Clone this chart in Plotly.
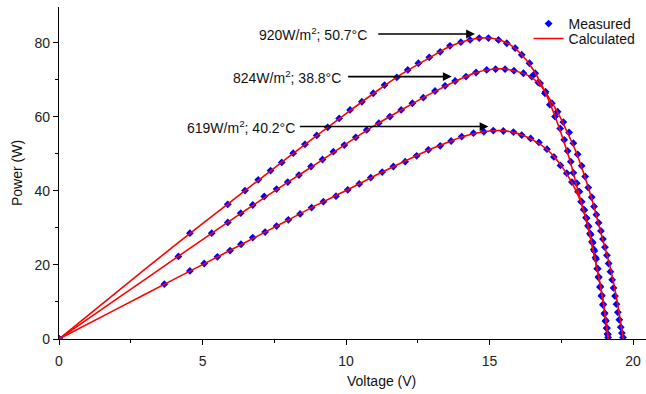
import plotly.graph_objects as go

# measured points (V, W)
v_920 = [0, 4.56, 5.88, 6.48, 6.94, 7.37, 7.76, 8.16, 8.57, 8.98, 9.36, 9.76, 10.14, 10.55, 10.95, 11.34,
         11.77, 12.15, 12.52, 12.9, 13.28, 13.62, 14.0, 14.32, 14.64, 14.96, 15.31, 15.6, 15.89, 16.12,
         16.39, 16.59, 16.76, 16.93, 17.1, 17.28, 17.46, 17.6, 17.72, 17.83, 17.92, 18.04, 18.13, 18.21,
         18.3, 18.38, 18.45, 18.52, 18.59, 18.65, 18.71, 18.77, 18.8, 18.85, 18.9, 18.95, 19.0, 19.04,
         19.08, 19.11, 19.13]
p_920 = [0, 28.6, 36.4, 40.1, 43.0, 45.5, 47.7, 50.2, 52.6, 55.0, 57.2, 59.6, 61.9, 64.1, 66.4, 68.6,
         70.7, 72.7, 74.5, 76.1, 77.6, 79.2, 80.2, 80.8, 81.3, 81.3, 80.8, 79.9, 78.6, 76.8,
         74.5, 71.8, 69.1, 66.4, 63.3, 60.1, 56.9, 53.8, 50.8, 47.9, 44.9, 42.1, 39.8, 37.1,
         34.8, 32.6, 30.4, 28.2, 26.0, 23.8, 21.6, 19.0, 16.6, 14.0, 11.6, 9.2, 6.8, 4.8,
         2.9, 1.4, 0.4]

v_824 = [0, 4.16, 5.32, 5.88, 6.33, 6.75, 7.15, 7.58, 7.97, 8.36, 8.78, 9.18, 9.56, 9.94, 10.34, 10.72,
         11.14, 11.53, 11.92, 12.31, 12.69, 13.1, 13.45, 13.8, 14.18, 14.53, 14.9, 15.21, 15.54, 15.85,
         16.18, 16.47, 16.7, 16.95, 17.17, 17.37, 17.57, 17.77, 17.92, 18.07, 18.21, 18.33, 18.44, 18.56,
         18.64, 18.72, 18.8, 18.88, 18.95, 19.02, 19.09, 19.15, 19.21, 19.27, 19.32, 19.37, 19.42, 19.47,
         19.52, 19.57, 19.61, 19.65]
p_824 = [0, 22.3, 28.6, 31.5, 34.0, 36.2, 38.5, 40.5, 42.4, 44.3, 46.6, 48.5, 50.6, 52.4, 54.5, 56.5,
         58.3, 60.1, 61.9, 63.7, 65.2, 67.0, 68.4, 69.7, 70.9, 72.0, 72.7, 72.9, 72.9, 72.5,
         71.8, 70.9, 69.3, 66.8, 63.7, 61.4, 58.6, 55.8, 52.9, 49.9, 46.8, 43.9, 40.9, 38.3,
         35.8, 33.6, 31.4, 29.2, 27.0, 24.8, 22.6, 20.4, 18.2, 16.0, 13.8, 11.6, 9.4, 7.2,
         5.2, 3.2, 1.6, 0.4]

v_619 = [0, 3.67, 4.56, 5.06, 5.52, 5.96, 6.34, 6.75, 7.18, 7.58, 7.99, 8.4, 8.8, 9.21, 9.65, 10.06,
         10.46, 10.86, 11.26, 11.65, 12.06, 12.46, 12.87, 13.28, 13.66, 14.03, 14.44, 14.8, 15.13, 15.48,
         15.83, 16.12, 16.43, 16.72, 17.0, 17.24, 17.47, 17.69, 17.87, 18.08, 18.19,
         18.28, 18.36, 18.43, 18.5, 18.57, 18.63, 18.69, 18.75, 18.8, 18.86, 18.91, 18.96, 19.01, 19.05,
         19.09, 19.12]
p_619 = [0, 14.8, 18.4, 20.4, 22.2, 23.9, 25.6, 27.4, 28.9, 30.5, 32.2, 33.8, 35.5, 37.1, 38.6, 40.3,
         41.9, 43.6, 45.1, 46.6, 47.9, 49.5, 51.1, 52.2, 53.5, 54.7, 55.6, 56.0, 56.3, 56.2,
         55.9, 55.1, 54.2, 53.1, 51.3, 49.2, 46.9, 44.8, 42.4, 39.8, 37.1,
         35.0, 32.8, 30.6, 28.5, 26.3, 24.2, 22.0, 19.0, 16.8, 14.2, 11.8, 9.4, 7.0, 5.0,
         3.0, 1.2]

# calculated curves
cv_920 = [0, 2, 4, 6, 8, 9, 10, 11, 12, 13, 13.5, 14, 14.5, 14.9, 15.3, 15.7, 16.1, 16.5, 16.9,
          17.2, 17.5, 17.8, 18.1, 18.4, 18.73, 18.95, 19.14]
cp_920 = [0, 12.6, 25.1, 37.2, 49.2, 55.1, 60.9, 66.6, 71.9, 76.4, 78.6, 80.2, 81.1, 81.4, 80.9, 79.6,
          77.0, 73.0, 67.3, 61.8, 55.4, 48.2, 39.5, 31.5, 19.5, 10.5, 0]

cv_824 = [0, 2, 4, 6, 8, 9, 10, 11, 12, 13, 14, 14.5, 15.0, 15.4, 15.85, 16.2, 16.5, 16.8, 17.1,
          17.4, 17.7, 18.0, 18.3, 18.6, 18.9, 19.2, 19.45, 19.66]
cp_824 = [0, 10.75, 21.5, 32.2, 42.5, 47.5, 52.7, 57.7, 62.2, 66.5, 70.3, 71.9, 72.8, 73.0, 72.5,
          71.7, 70.5, 68.3, 64.8, 60.8, 56.0, 50.8, 44.3, 36.8, 28.1, 19.5, 10.0, 0]

cv_619 = [0, 2, 4, 6, 8, 9, 10, 11, 12, 13, 13.5, 14, 14.5, 15.0, 15.4, 15.8, 16.2, 16.6, 17.0,
          17.3, 17.6, 17.9, 18.15, 18.4, 18.73, 18.95, 19.13]
cp_619 = [0, 8.07, 16.1, 24.1, 32.2, 36.3, 40.1, 44.1, 47.9, 51.5, 53.0, 54.5, 55.6, 56.2, 56.3, 55.9,
          54.9, 53.4, 51.2, 48.8, 45.7, 41.8, 37.6, 31.0, 19.5, 10.5, 0]

labels = ["920W/m<sup>2</sup>; 50.7°C", "824W/m<sup>2</sup>; 38.8°C", "619W/m<sup>2</sup>; 40.2°C"]
label_y = [82.4, 70.9, 57.4]
arrow_from = [11.07, 10.02, 8.34]
arrow_to = [14.49, 13.68, 14.96]
label_end = [10.8, 9.9, 8.28]

FONT = "Arial, Liberation Sans, sans-serif"

fig = go.Figure()

measured = [(v_920, p_920), (v_824, p_824), (v_619, p_619)]
for i, (vx, py) in enumerate(measured):
    fig.add_trace(go.Scatter(
        x=vx, y=py, mode="markers", name="Measured", showlegend=(i == 0), legend="legend",
        marker=dict(symbol="diamond", size=6, color="#0000ff", line=dict(width=0)),
    ))

calculated = [(cv_920, cp_920), (cv_824, cp_824), (cv_619, cp_619)]
for i, (vx, py) in enumerate(calculated):
    fig.add_trace(go.Scatter(
        x=vx, y=py, mode="lines", name="Calculated", showlegend=(i == 0), legend="legend2",
        line=dict(color="#ff0000", width=1.6, shape="spline", smoothing=0.6),
    ))

for txt, y, x0, x1, xe in zip(labels, label_y, arrow_from, arrow_to, label_end):
    fig.add_annotation(x=xe, y=y, text=txt, showarrow=False, xanchor="right", yanchor="middle",
                       font=dict(family=FONT, size=14, color="#111"))
    fig.add_annotation(x=x1, y=y, ax=x0, ay=y, axref="x", ayref="y", text="", showarrow=True,
                       arrowhead=2, arrowsize=1.1, arrowwidth=1.6, arrowcolor="#000")

# x title sits right of centre in the original
fig.add_annotation(x=0.55, y=-0.127, xref="paper", yref="paper", text="Voltage (V)", showarrow=False,
                   xanchor="center", yanchor="middle", font=dict(family=FONT, size=14, color="#111"))

fig.update_xaxes(
    range=[0, 20.45], showline=True, linecolor="#000", linewidth=1.2, showgrid=False, zeroline=False,
    tickmode="linear", tick0=0, dtick=5, ticks="outside", ticklen=5, tickcolor="#000",
    minor=dict(dtick=2.5, ticks="outside", ticklen=3, tickcolor="#000"),
    tickfont=dict(family=FONT, size=14, color="#222"), ticklabelstandoff=4, automargin=False,
)
fig.update_yaxes(
    range=[0, 89.7], showline=True, linecolor="#000", linewidth=1.2, showgrid=False, zeroline=False,
    tickmode="linear", tick0=0, dtick=20, ticks="outside", ticklen=5, tickcolor="#000",
    minor=dict(dtick=10, ticks="outside", ticklen=3, tickcolor="#000"),
    tickfont=dict(family=FONT, size=14, color="#222"), automargin=False,
    title=dict(text="Power (W)", font=dict(family=FONT, size=14, color="#111"), standoff=8),
)

leg = dict(xanchor="left", yanchor="top", bgcolor="rgba(0,0,0,0)",
           font=dict(family=FONT, size=14, color="#111"))
fig.update_layout(
    width=646, height=394,
    margin=dict(l=59, r=0, t=7, b=55),
    plot_bgcolor="white", paper_bgcolor="white",
    font=dict(family=FONT, size=14, color="#111"),
    legend=dict(leg, x=0.80, y=0.997),
    legend2=dict(leg, x=0.80, y=0.952),
)

fig.write_html("out.html", config={"displayModeBar": False},
               post_script="document.body.style.margin='0';")
